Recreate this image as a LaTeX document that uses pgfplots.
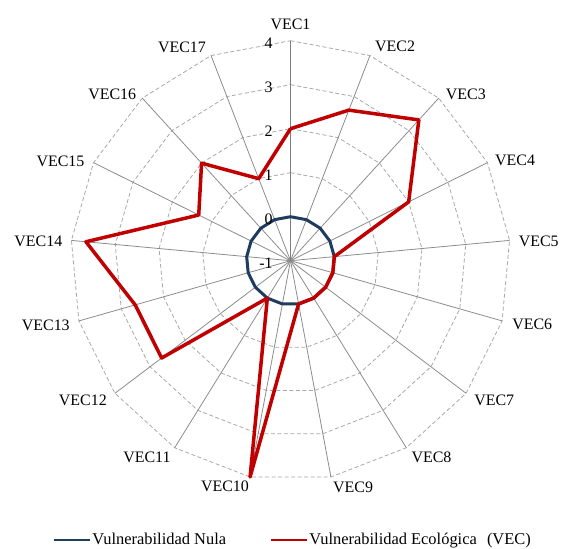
\documentclass[border=0pt]{standalone}
\usepackage{fontspec}
\setmainfont{Liberation Serif}
\usepackage{pgfplots}
\pgfplotsset{compat=1.18}
\usepackage{pgfplotstable}
\definecolor{vecred}{HTML}{C00000}
\definecolor{nulblue}{HTML}{1F3B5E}
\definecolor{spokegray}{HTML}{8C8C8C}
\definecolor{gridgray}{HTML}{A8A8A8}

% i = category index (VEC1 = 0), v = value; last row closes the polygon
\pgfplotstableread{
i v
0 2
1 2.67
2 3.33
3 2
4 0
5 0
6 0
7 0
8 0
9 4
10 0
11 2.67
12 2.67
13 3.67
14 1.33
15 2
16 1
17 2
}\vecdata

\pgfplotstableread{
i v
0 0
1 0
2 0
3 0
4 0
5 0
6 0
7 0
8 0
9 0
10 0
11 0
12 0
13 0
14 0
15 0
16 0
17 0
}\nuladata

\begin{document}
\fontsize{16}{19}\selectfont
\begin{tikzpicture}
\begin{axis}[
  x=44bp, y=44bp,
  xmin=-6.602, xmax=6.193, ymin=-6.530, ymax=5.925,
  axis lines=none, clip=false,
  legend style={at={(0.5195,0.0146)}, anchor=center, draw=none, fill=none,
    legend columns=2, font=\fontsize{16.5}{19}\selectfont,
    nodes={inner xsep=1bp, inner ysep=1bp},
    /tikz/every even column/.append style={column sep=43bp}},
  legend image code/.code={\draw[#1, line width=2.3bp] (0bp,0bp) -- (36bp,0bp);},
]
% dashed polygon grid (levels 0..4 -> radius 1..5)
\pgfplotsinvokeforeach{1,...,5}{
  \addplot[gridgray, dash pattern=on 4bp off 2.5bp, line width=0.8bp, forget plot, data cs=polar]
    table[x expr={90-\thisrow{i}*360/17}, y expr=#1] {\vecdata};
}
% spokes
\pgfplotsinvokeforeach{1,...,16}{
  \addplot[spokegray, line width=0.8bp, forget plot, data cs=polar]
    coordinates {({90-#1*360/17},0) ({90-#1*360/17},5)};
}
\addplot[spokegray!90!black, line width=1.3bp, forget plot, data cs=polar]
    coordinates {(90,0) (90,5)};

% series
\addplot[nulblue, line width=3bp, line join=round, data cs=polar]
  table[x expr={90-\thisrow{i}*360/17}, y expr={\thisrow{v}+1}] {\nuladata};
\addlegendentry{Vulnerabilidad Nula}
\addplot[vecred, line width=3.5bp, line join=round, data cs=polar]
  table[x expr={90-\thisrow{i}*360/17}, y expr={\thisrow{v}+1}] {\vecdata};
\addlegendentry{Vulnerabilidad Ecológica\hspace{6bp} (VEC)}

% radial tick labels
\node[anchor=east, inner sep=0pt, yshift=-2.5bp] at (axis cs:-0.40,5) {4};
\node[anchor=east, inner sep=0pt, yshift=-2.5bp] at (axis cs:-0.40,4) {3};
\node[anchor=east, inner sep=0pt, yshift=-2.5bp] at (axis cs:-0.40,3) {2};
\node[anchor=east, inner sep=0pt, yshift=-2.5bp] at (axis cs:-0.40,2) {1};
\node[anchor=east, inner sep=0pt, yshift=-2.5bp] at (axis cs:-0.40,1) {0};
\node[anchor=east, inner sep=0pt, yshift=-2.5bp] at (axis cs:-0.40,0) {-1};

% category labels
\node[inner sep=0pt, anchor=south, yshift=11bp] at (axis cs:{5*cos(90)},{5*sin(90)}) {VEC1};
\node[inner sep=0pt, anchor=south west, xshift=5bp, yshift=3.5bp] at (axis cs:{5*cos(90-1*360/17)},{5*sin(90-1*360/17)}) {VEC2};
\node[inner sep=0pt, anchor=south west, xshift=7bp, yshift=-1.5bp] at (axis cs:{5*cos(90-2*360/17)},{5*sin(90-2*360/17)}) {VEC3};
\node[inner sep=0pt, anchor=west, xshift=7.5bp, yshift=2.5bp] at (axis cs:{5*cos(90-3*360/17)},{5*sin(90-3*360/17)}) {VEC4};
\node[inner sep=0pt, anchor=west, xshift=9bp, yshift=-0.8bp] at (axis cs:{5*cos(90-4*360/17)},{5*sin(90-4*360/17)}) {VEC5};
\node[inner sep=0pt, anchor=west, xshift=10bp, yshift=-3.8bp] at (axis cs:{5*cos(90-5*360/17)},{5*sin(90-5*360/17)}) {VEC6};
\node[inner sep=0pt, anchor=north west, xshift=8bp, yshift=-1.7bp] at (axis cs:{5*cos(90-6*360/17)},{5*sin(90-6*360/17)}) {VEC7};
\node[inner sep=0pt, anchor=north west, xshift=5bp, yshift=-4bp] at (axis cs:{5*cos(90-7*360/17)},{5*sin(90-7*360/17)}) {VEC8};
\node[inner sep=0pt, anchor=north west, xshift=2bp, yshift=-5bp] at (axis cs:{5*cos(90-8*360/17)},{5*sin(90-8*360/17)}) {VEC9};
\node[inner sep=0pt, anchor=north east, xshift=-1bp, yshift=-4bp] at (axis cs:{5*cos(90-9*360/17)},{5*sin(90-9*360/17)}) {VEC10};
\node[inner sep=0pt, anchor=north east, xshift=-4bp, yshift=-4bp] at (axis cs:{5*cos(90-10*360/17)},{5*sin(90-10*360/17)}) {VEC11};
\node[inner sep=0pt, anchor=north east, xshift=-8bp, yshift=-1bp] at (axis cs:{5*cos(90-11*360/17)},{5*sin(90-11*360/17)}) {VEC12};
\node[inner sep=0pt, anchor=east, xshift=-9bp, yshift=-4bp] at (axis cs:{5*cos(90-12*360/17)},{5*sin(90-12*360/17)}) {VEC13};
\node[inner sep=0pt, anchor=east, xshift=-9bp, yshift=-0.5bp] at (axis cs:{5*cos(90-13*360/17)},{5*sin(90-13*360/17)}) {VEC14};
\node[inner sep=0pt, anchor=east, xshift=-9bp, yshift=1bp] at (axis cs:{5*cos(90-14*360/17)},{5*sin(90-14*360/17)}) {VEC15};
\node[inner sep=0pt, anchor=south east, xshift=-6bp, yshift=-1.7bp] at (axis cs:{5*cos(90-15*360/17)},{5*sin(90-15*360/17)}) {VEC16};
\node[inner sep=0pt, anchor=south east, xshift=-5bp, yshift=3bp] at (axis cs:{5*cos(90-16*360/17)},{5*sin(90-16*360/17)}) {VEC17};

\coordinate (BL) at (axis cs:-6.602,-6.530);
\coordinate (TR) at (axis cs:6.193,5.925);
\end{axis}
\pgfresetboundingbox
\path (BL) rectangle (TR);
\end{tikzpicture}
\end{document}
